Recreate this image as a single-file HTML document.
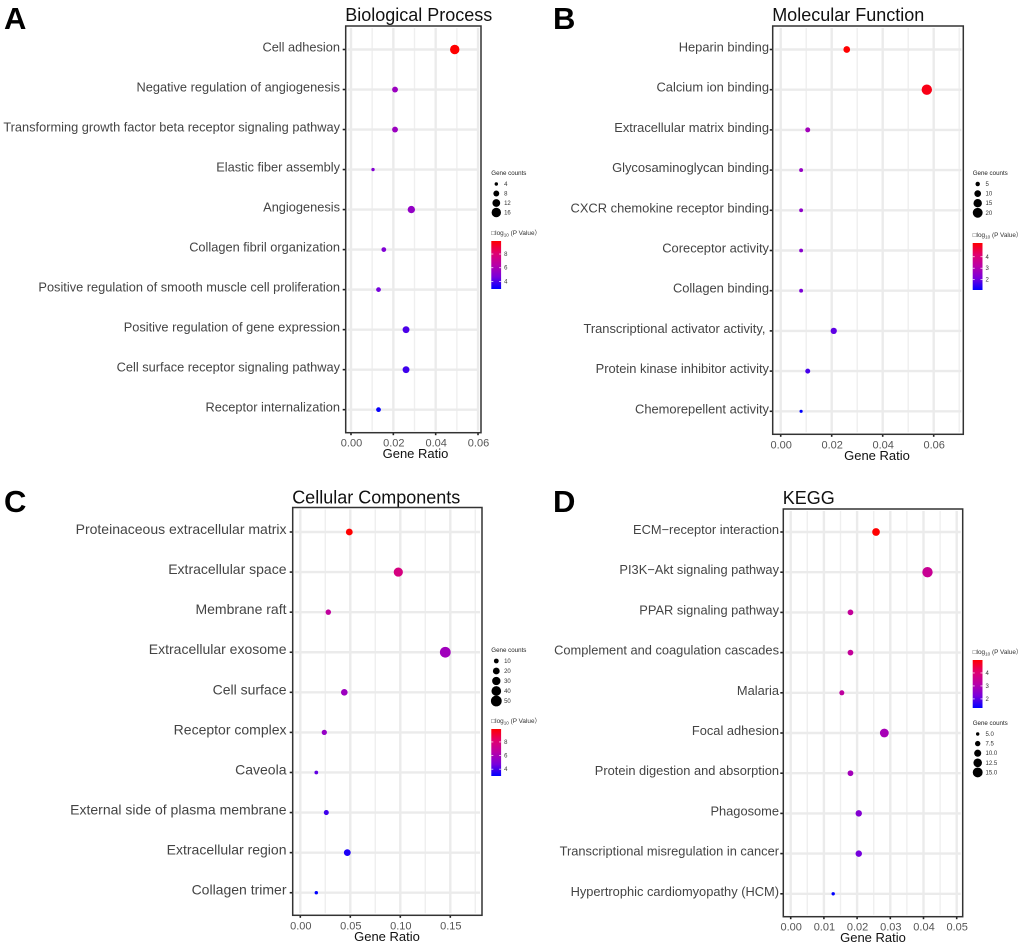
<!DOCTYPE html>
<html lang="en">
<head>
<meta charset="utf-8">
<title>Enrichment bubble charts</title>
<style>
html,body{margin:0;padding:0;background:#fff;}
svg{display:block;font-family:"Liberation Sans",sans-serif;}
</style>
</head>
<body>
<svg id="figure" xmlns="http://www.w3.org/2000/svg" width="1020" height="946" viewBox="0 0 1020 946">
<defs>
<linearGradient id="pvalue-gradient" x1="0" y1="1" x2="0" y2="0">
<stop offset="0" stop-color="#0000ff"/>
<stop offset="0.25" stop-color="#7800dc"/>
<stop offset="0.5" stop-color="#b800a8"/>
<stop offset="0.75" stop-color="#e00070"/>
<stop offset="1" stop-color="#ff0000"/>
</linearGradient>
</defs>
</svg>
<script>
// Panel A: Biological Process
const aCategories = ["Cell adhesion","Negative regulation of angiogenesis","Transforming growth factor beta receptor signaling pathway","Elastic fiber assembly","Angiogenesis","Collagen fibril organization","Positive regulation of smooth muscle cell proliferation","Positive regulation of gene expression","Cell surface receptor signaling pathway","Receptor internalization"];
const aRatios = [0.049,0.0208,0.0208,0.0104,0.0285,0.0155,0.013,0.026,0.026,0.013];
const aCounts = [16,8,8,4,11,6,6,10,10,6];
const aPValues = [9.9,5.6,5.6,5.0,5.4,4.9,4.6,4.0,3.8,3.0];
const aXTicks = [0,0.02,0.04,0.06];
const aSizeLegend = [4,8,12,16];
const aColorTicks = [8,6,4];

// Panel B: Molecular Function
const bCategories = ["Heparin binding","Calcium ion binding","Extracellular matrix binding","Glycosaminoglycan binding","CXCR chemokine receptor binding","Coreceptor activity","Collagen binding","Transcriptional activator activity,\u00a0","Protein kinase inhibitor activity","Chemorepellent activity"];
const bRatios = [0.0259,0.0573,0.0106,0.008,0.008,0.008,0.008,0.0208,0.0106,0.008];
const bCounts = [10,22,6,4,4,4,4,9,6,3];
const bPValues = [5.2,5.0,2.8,2.6,2.5,2.4,2.2,1.9,1.7,1.1];
const bXTicks = [0,0.02,0.04,0.06];
const bSizeLegend = [5,10,15,20];
const bColorTicks = [4,3,2];

// Panel C: Cellular Components
const cCategories = ["Proteinaceous extracellular matrix","Extracellular space","Membrane raft","Extracellular exosome","Cell surface","Receptor complex","Caveola","External side of plasma membrane","Extracellular region","Collagen trimer"];
const cRatios = [0.049,0.098,0.028,0.145,0.044,0.024,0.016,0.026,0.047,0.016];
const cCounts = [20,36,13,50,19,12,6,11,20,5];
const cPValues = [9.9,7.7,6.8,5.8,5.7,5.5,4.4,3.9,3.4,3.0];
const cXTicks = [0,0.05,0.10,0.15];
const cSizeLegend = [10,20,30,40,50];
const cColorTicks = [8,6,4];

// Panel D: KEGG
const dCategories = ["ECM\u2212receptor interaction","PI3K\u2212Akt signaling pathway","PPAR signaling pathway","Complement and coagulation cascades","Malaria","Focal adhesion","Protein digestion and absorption","Phagosome","Transcriptional misregulation in cancer","Hypertrophic cardiomyopathy (HCM)"];
const dRatios = [0.0257,0.0412,0.018,0.018,0.0154,0.0282,0.018,0.0205,0.0205,0.0128];
const dCounts = [11,16,8,8,7,13,8,9,9,5];
const dPValues = [5.0,3.5,3.4,3.4,3.3,2.9,2.85,2.4,2.2,1.3];
const dXTicks = [0,0.01,0.02,0.03,0.04,0.05];
const dSizeLegend = ["5.0","7.5","10.0","12.5","15.0"];
const dColorTicks = [4,3,2];

const svg = document.getElementById('figure');
const NS = 'http://www.w3.org/2000/svg';
const COLOR_STOPS = [[0,0,255],[120,0,220],[184,0,168],[224,0,112],[255,0,0]];

function el(tag, attrs, parent, text) {
  const node = document.createElementNS(NS, tag);
  for (const k in attrs) node.setAttribute(k, attrs[k]);
  if (text !== undefined) node.textContent = text;
  (parent || svg).appendChild(node);
  return node;
}
function colorAt(t) {
  const c = Math.max(0, Math.min(1, t)) * (COLOR_STOPS.length - 1);
  const i = Math.min(COLOR_STOPS.length - 2, Math.floor(c));
  const f = c - i;
  const a = COLOR_STOPS[i], b = COLOR_STOPS[i + 1];
  return 'rgb(' + [0,1,2].map(function (j) { return Math.round(a[j] + (b[j] - a[j]) * f); }).join(',') + ')';
}
function drawPanel(p) {
  const group = el('g', {});
  
  

  const letter = el('text', {x: p.letterX, y: p.letterY, 'font-size': 31, 'font-weight': 'bold', fill: '#000'}, group, p.letter);
  
  

  const title = el('text', {x: p.left - 0.5, y: p.top - 5 + p.titleDy, 'font-size': p.titleSize, fill: '#111'}, group, p.title);
  
  

  const xScale = function (v) { return p.x0 + v * p.pxPerUnit; };
  const yScale = function (i) { return p.y0 + i * p.rowStep; };
  const sizeScale = function (c) {
    const n = (Math.sqrt(c) - Math.sqrt(p.sizeMin)) / (Math.sqrt(p.sizeMax) - Math.sqrt(p.sizeMin));
    return p.rMin + Math.max(0, n) * (p.rMax - p.rMin);
  };
  const colorScale = function (v) { return colorAt((v - p.colorMin) / (p.colorMax - p.colorMin)); };

  // vertical grid (major at ticks, minor half-way)
  const step = p.xTicks[1] - p.xTicks[0];
  for (let m = -1; m < p.xTicks.length * 2 + 2; m++) {
    const v = m * step / 2;
    const x = xScale(v);
    if (x < p.left + 3 || x > p.right - 2) continue;
    const major = m % 2 === 0;
    const line = el('line', {x1: x, x2: x, y1: p.top + 2, y2: p.bottom - 2, stroke: major ? '#ebebeb' : '#efefef', 'stroke-width': major ? 2.4 : 1.4}, group);
    
    
  }
  // horizontal grid, labels, ticks
  p.categories.forEach(function (cat, i) {
    const y = yScale(i);
    const line = el('line', {x1: p.left + 2, x2: p.right - 2, y1: y, y2: y, stroke: '#ebebeb', 'stroke-width': 2.4}, group);
    
    

    const tick = el('line', {x1: p.left - 3, x2: p.left, y1: y, y2: y, stroke: '#222', 'stroke-width': 1.6}, group);
    
    

    const label = el('text', {x: p.labelX, y: y + p.labelDy, 'text-anchor': 'end', 'font-size': p.labelSize, fill: '#444'}, group, cat);
    
    
  });
  // x ticks
  p.xTicks.forEach(function (v) {
    const x = xScale(v);
    const tick = el('line', {x1: x, x2: x, y1: p.bottom, y2: p.bottom + 2.5, stroke: '#222', 'stroke-width': 1.6}, group);
    
    

    const label = el('text', {x: x + 0.5, y: p.bottom + 14, 'text-anchor': 'middle', 'font-size': 11, fill: '#555'}, group, v.toFixed(2));
    
    
  });
  // panel border
  const frame = el('rect', {x: p.left, y: p.top, width: p.right - p.left, height: p.bottom - p.top, fill: 'none', stroke: '#333', 'stroke-width': 1.5}, group);
  
  

  const axisTitle = el('text', {x: p.axisTitleX, y: p.bottom + 25.5, 'text-anchor': 'middle', 'font-size': 13, fill: '#111'}, group, 'Gene Ratio');
  
  

  // bubbles
  p.ratios.forEach(function (r, i) {
    const dot = el('circle', {cx: xScale(r), cy: yScale(i), r: sizeScale(p.counts[i]), fill: colorScale(p.pValues[i])}, group);
    
    
  });

  // size legend
  const sizeTitle = el('text', {x: p.legendX, y: p.sizeTitleY, 'font-size': 6.2, fill: '#222'}, group, 'Gene counts');
  
  
  p.sizeLegend.forEach(function (c, i) {
    const y = p.sizeTitleY + 9 + i * p.sizeStep;
    const dot = el('circle', {cx: p.legendX + 5, cy: y, r: sizeScale(Number(c)), fill: '#000'}, group);
    
    
    const label = el('text', {x: p.legendX + 12.8, y: y + 2, 'font-size': 6, fill: '#333'}, group, String(c));
    
    
  });

  // colour legend
  const cTitle = el('text', {x: p.legendX, y: p.barTop - 6, 'font-size': 6.4, fill: '#333'}, group);
  
  
  el('tspan', {}, cTitle, '\u25a1log');
  el('tspan', {dy: 1.5, 'font-size': 4.6}, cTitle, '10');
  el('tspan', {dy: -1.5}, cTitle, '\u00a0(P Value\uff09');

  const bar = el('rect', {x: p.legendX, y: p.barTop, width: 9.8, height: p.barHeight, fill: 'url(#pvalue-gradient)'}, group);
  
  
  p.colorTicks.forEach(function (v) {
    const y = p.barTop + p.barHeight - (v - p.colorMin) / (p.colorMax - p.colorMin) * p.barHeight;
    [[p.legendX, p.legendX + 2], [p.legendX + 7.8, p.legendX + 9.8]].forEach(function (seg) {
      const t = el('line', {x1: seg[0], x2: seg[1], y1: y, y2: y, stroke: '#fff', 'stroke-width': 0.7}, group);
      
      
    });
    const label = el('text', {x: p.legendX + 12.8, y: y + 2, 'font-size': 6, fill: '#333'}, group, String(v));
    
    
  });
}

drawPanel({id:'biological-process', letter:'A', letterX:4, letterY:29, title:'Biological Process', titleSize:18, titleDy:0,
  left:345.7, right:481, top:26, bottom:432.7, x0:351, pxPerUnit:2117, y0:49.5, rowStep:40.02,
  labelX:340, labelDy:2, labelSize:12.8, axisTitleX:415.5,
  categories:aCategories, ratios:aRatios, counts:aCounts, pValues:aPValues, xTicks:aXTicks,
  sizeLegend:aSizeLegend, colorTicks:aColorTicks, sizeMin:4, sizeMax:16, rMin:1.7, rMax:4.7, colorMin:2.9, colorMax:9.9,
  legendX:491.3, sizeTitleY:175, sizeStep:9.5, barTop:241, barHeight:48});

drawPanel({id:'molecular-function', letter:'B', letterX:553, letterY:29, title:'Molecular Function', titleSize:18, titleDy:0,
  left:772.7, right:963.3, top:26, bottom:434.3, x0:780.7, pxPerUnit:2550, y0:49.5, rowStep:40.2,
  labelX:769, labelDy:2, labelSize:12.9, axisTitleX:877,
  categories:bCategories, ratios:bRatios, counts:bCounts, pValues:bPValues, xTicks:bXTicks,
  sizeLegend:bSizeLegend, colorTicks:bColorTicks, sizeMin:3, sizeMax:22, rMin:1.6, rMax:5.2, colorMin:1.1, colorMax:5.2,
  legendX:972.7, sizeTitleY:175, sizeStep:9.6, barTop:243, barHeight:47});

drawPanel({id:'cellular-components', letter:'C', letterX:4, letterY:512, title:'Cellular Components', titleSize:18, titleDy:1,
  left:292.7, right:482, top:507.5, bottom:915.3, x0:300.3, pxPerUnit:1000, y0:532, rowStep:40.08,
  labelX:286.5, labelDy:2, labelSize:14, axisTitleX:387,
  categories:cCategories, ratios:cRatios, counts:cCounts, pValues:cPValues, xTicks:cXTicks,
  sizeLegend:cSizeLegend, colorTicks:cColorTicks, sizeMin:5, sizeMax:50, rMin:1.7, rMax:5.4, colorMin:3, colorMax:9.9,
  legendX:491.3, sizeTitleY:652, sizeStep:10, barTop:729, barHeight:47});

drawPanel({id:'kegg', letter:'D', letterX:553, letterY:512, title:'KEGG', titleSize:18, titleDy:0,
  left:783.3, right:962.7, top:509, bottom:916.7, x0:790.7, pxPerUnit:3320, y0:532, rowStep:40.2,
  labelX:779, labelDy:2, labelSize:12.85, axisTitleX:873,
  categories:dCategories, ratios:dRatios, counts:dCounts, pValues:dPValues, xTicks:dXTicks,
  sizeLegend:dSizeLegend, colorTicks:dColorTicks, sizeMin:5, sizeMax:16, rMin:1.7, rMax:5.2, colorMin:1.3, colorMax:5,
  legendX:972.7, sizeTitleY:725, sizeStep:9.6, barTop:660, barHeight:48});
</script>
</body>
</html>
